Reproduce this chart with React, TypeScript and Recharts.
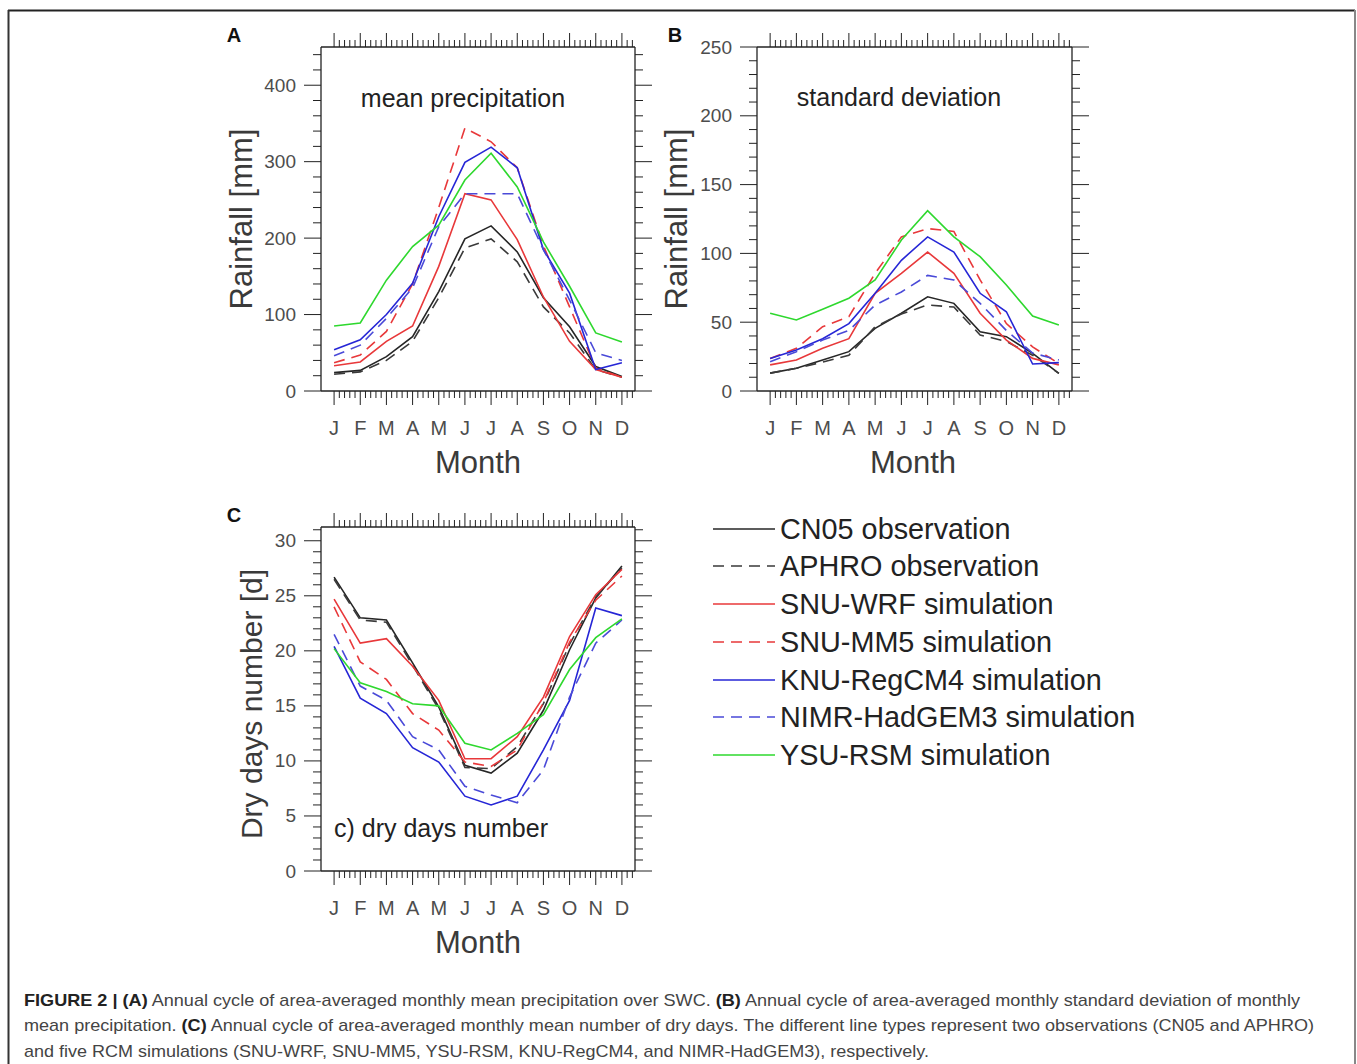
import React from "react";
import { LineChart, Line, XAxis, YAxis } from "recharts";

// ---------- data ----------
const monthLabels = ["J", "F", "M", "A", "M", "J", "J", "A", "S", "O", "N", "D"];
const monthIdx = [1, 2, 3, 4, 5, 6, 7, 8, 9, 10, 11, 12];

// Panel A: mean precipitation [mm]
const meanCN05 = [24, 27, 45, 71, 130, 199, 216, 182, 122, 84, 32, 19];
const meanAPHRO = [22, 25, 40, 65, 122, 187, 199, 169, 110, 76, 28, 18];
const meanWRF = [33, 38, 65, 85, 163, 258, 250, 198, 123, 65, 28, 18];
const meanMM5 = [37, 47, 78, 140, 240, 344, 326, 292, 190, 110, 30, 18];
const meanRegCM4 = [54, 67, 100, 141, 228, 299, 319, 292, 185, 128, 28, 37];
const meanHadGEM3 = [46, 60, 95, 135, 215, 258, 258, 258, 185, 119, 50, 40];
const meanRSM = [85, 89, 145, 189, 217, 276, 311, 267, 195, 137, 76, 64];

// Panel B: standard deviation [mm]
const sdCN05 = [13, 16.5, 22.5, 28.6, 45.5, 56.5, 68.5, 63.7, 43, 39.5, 27.4, 12.8];
const sdAPHRO = [13, 16.5, 21, 26, 46.7, 56, 62.5, 61, 40.7, 36, 26, 12.8];
const sdWRF = [19, 22.5, 31, 38, 71, 85.5, 101, 85.5, 56.5, 37, 23.7, 19];
const sdMM5 = [23.7, 31, 46.7, 54, 85.5, 112, 118, 116, 80.7, 49, 32, 20];
const sdRegCM4 = [23.7, 29.8, 38, 49, 71, 95, 112, 101, 71, 57.6, 19.6, 20.6];
const sdHadGEM3 = [21.3, 28.6, 37, 44, 62.5, 72, 84, 80.7, 63.7, 44, 27.6, 22.5];
const sdRSM = [56.5, 51.6, 59.4, 67.4, 80.7, 109.7, 131, 112, 97.6, 77, 54.5, 48];

// Panel C: dry days number [d]
const dryCN05 = [26.7, 23, 22.8, 18.9, 14.9, 9.6, 8.9, 10.7, 14.6, 20.1, 24.8, 27.7];
const dryAPHRO = [26.5, 22.8, 22.6, 18.7, 14.7, 9.4, 9.3, 11.3, 15.2, 20.6, 24.9, 27.5];
const dryWRF = [24.7, 20.7, 21.1, 18.6, 15.5, 10.2, 10.2, 12.2, 15.8, 21.3, 25.1, 27.4];
const dryMM5 = [24.0, 19.0, 17.4, 14.3, 12.8, 9.9, 9.5, 11.0, 15.3, 20.8, 24.6, 26.8];
const dryRegCM4 = [20.4, 15.7, 14.3, 11.2, 9.9, 6.8, 6.0, 6.8, 11.0, 15.5, 23.9, 23.2];
const dryHadGEM3 = [21.5, 16.8, 15.5, 12.2, 11.0, 7.7, 6.9, 6.2, 9.2, 15.8, 20.7, 22.8];
const dryRSM = [20.2, 17.1, 16.3, 15.2, 15.0, 11.6, 11.0, 12.5, 14.2, 18.3, 21.2, 22.9];

const seriesKeys = ["cn05", "aphro", "wrf", "mm5", "regcm4", "hadgem3", "rsm"];
const seriesNames = [
  "CN05 observation",
  "APHRO observation",
  "SNU-WRF simulation",
  "SNU-MM5 simulation",
  "KNU-RegCM4 simulation",
  "NIMR-HadGEM3 simulation",
  "YSU-RSM simulation",
];
const seriesColors = ["#262626", "#3a3a3a", "#e8383a", "#e8383a", "#2626d6", "#4a4ad8", "#2ed82e"];
const seriesDash = [undefined, "11 7", undefined, "11 7", undefined, "11 7", undefined];

const meanTicksY = [0, 100, 200, 300, 400];
const sdTicksY = [0, 50, 100, 150, 200, 250];
const dryTicksY = [0, 5, 10, 15, 20, 25, 30];

const FONT = "'Liberation Sans', Arial, Helvetica, sans-serif";

function buildData(cols: number[][]) {
  return monthIdx.map((m, i) => {
    const row: any = { m };
    seriesKeys.forEach((k, j) => (row[k] = cols[j][i]));
    return row;
  });
}

const meanData = buildData([meanCN05, meanAPHRO, meanWRF, meanMM5, meanRegCM4, meanHadGEM3, meanRSM]);
const sdData = buildData([sdCN05, sdAPHRO, sdWRF, sdMM5, sdRegCM4, sdHadGEM3, sdRSM]);
const dryData = buildData([dryCN05, dryAPHRO, dryWRF, dryMM5, dryRegCM4, dryHadGEM3, dryRSM]);

// x ticks: months (major) + 5 sub-divisions per month (minor)
const xTicks: number[] = [];
for (let i = 3; i <= 62; i++) xTicks.push(Math.round((0.5 + i * 0.2 - 0.1) * 1000) / 1000);
const xTicksAll = Array.from(new Set(xTicks.concat(monthIdx))).sort((a, b) => a - b).filter((v) => v > 0.5 && v < 12.5);

function yTicksFor(max: number, minorStep: number) {
  const out: number[] = [];
  for (let v = 0; v <= max + 1e-9; v += minorStep) out.push(Math.round(v * 1000) / 1000);
  return out;
}

const TICK_COLOR = "#4d4d4d";
const AXIS_COLOR = "#222";

const isInt = (v: number) => Math.abs(v - Math.round(v)) < 1e-6;

function XTick(props: any) {
  const { x, y, payload, side } = props;
  const v = payload.value;
  const major = isInt(v);
  const len = major ? 14 : 7;
  const sgn = side === "top" ? -1 : 1;
  return (
    <g>
      <line x1={x} x2={x} y1={y} y2={y + sgn * len} stroke={AXIS_COLOR} strokeWidth={1} />
      {side === "bottom" && major ? (
        <text x={x} y={y + 37} textAnchor="middle" dominantBaseline="central" fontSize={20} fill={TICK_COLOR} fontFamily={FONT}>
          {monthLabels[Math.round(v) - 1]}
        </text>
      ) : null}
    </g>
  );
}

function makeYTick(majorList: number[]) {
  return function YTick(props: any) {
    const { x, y, payload, side } = props;
    const v = payload.value;
    const major = majorList.some((m) => Math.abs(m - v) < 1e-6);
    const len = major ? 17 : 8;
    const sgn = side === "left" ? -1 : 1;
    return (
      <g>
        <line x1={x} x2={x + sgn * len} y1={y} y2={y} stroke={AXIS_COLOR} strokeWidth={1} />
        {side === "left" && major ? (
          <text x={x - len - 8} y={y} textAnchor="end" dominantBaseline="central" fontSize={19} fill={TICK_COLOR} fontFamily={FONT}>
            {v}
          </text>
        ) : null}
      </g>
    );
  };
}

type PanelProps = {
  data: any[];
  left: number;
  top: number;
  plotW: number;
  plotH: number;
  yMax: number;
  yMinor: number;
  yMajor: number[];
};

function Panel({ data, left, top, plotW, plotH, yMax, yMinor, yMajor }: PanelProps) {
  const LW = 80, RW = 40, TH = 30, BH = 60;
  const yTicks = yTicksFor(yMax, yMinor);
  const YT = makeYTick(yMajor);
  return (
    <div style={{ position: "absolute", left: left - LW, top: top - TH }}>
      <LineChart width={LW + plotW + RW} height={TH + plotH + BH} data={data} margin={{ top: 0, right: 0, bottom: 0, left: 0 }}>
        <XAxis
          xAxisId="b"
          dataKey="m"
          type="number"
          domain={[0.5, 12.5]}
          ticks={xTicksAll}
          interval={0}
          height={BH}
          tickSize={0}
          tickMargin={0}
          tickLine={false}
          axisLine={{ stroke: AXIS_COLOR, strokeWidth: 1.3 }}
          tick={(p: any) => <XTick {...p} side="bottom" />}
          allowDataOverflow
        />
        <XAxis
          xAxisId="t"
          orientation="top"
          type="number"
          dataKey="m"
          domain={[0.5, 12.5]}
          ticks={xTicksAll}
          interval={0}
          height={TH}
          tickSize={0}
          tickMargin={0}
          tickLine={false}
          axisLine={{ stroke: AXIS_COLOR, strokeWidth: 1.3 }}
          tick={(p: any) => <XTick {...p} side="top" />}
          allowDataOverflow
        />
        <YAxis
          yAxisId="l"
          type="number"
          domain={[0, yMax]}
          ticks={yTicks}
          interval={0}
          width={LW}
          tickSize={0}
          tickMargin={0}
          tickLine={false}
          axisLine={{ stroke: AXIS_COLOR, strokeWidth: 1.3 }}
          tick={(p: any) => <YT {...p} side="left" />}
          allowDataOverflow
        />
        <YAxis
          yAxisId="r"
          orientation="right"
          type="number"
          domain={[0, yMax]}
          ticks={yTicks}
          interval={0}
          width={RW}
          tickSize={0}
          tickMargin={0}
          tickLine={false}
          axisLine={{ stroke: AXIS_COLOR, strokeWidth: 1.3 }}
          tick={(p: any) => <YT {...p} side="right" />}
          allowDataOverflow
        />
        {seriesKeys.map((k, i) => (
          <Line
            key={k}
            xAxisId="b"
            yAxisId="l"
            dataKey={k}
            type="linear"
            stroke={seriesColors[i]}
            strokeWidth={1.6}
            strokeDasharray={seriesDash[i]}
            dot={false}
            activeDot={false}
            isAnimationActive={false}
          />
        ))}
      </LineChart>
    </div>
  );
}

const captionLines = [
  {
    y: 1006,
    len: 1276,
    parts: [
      { t: "FIGURE 2 | (A)", b: true },
      { t: " Annual cycle of area-averaged monthly mean precipitation over SWC. ", b: false },
      { t: "(B)", b: true },
      { t: " Annual cycle of area-averaged monthly standard deviation of monthly", b: false },
    ],
  },
  {
    y: 1031,
    len: 1290,
    parts: [
      { t: "mean precipitation. ", b: false },
      { t: "(C)", b: true },
      { t: " Annual cycle of area-averaged monthly mean number of dry days. The different line types represent two observations (CN05 and APHRO)", b: false },
    ],
  },
  {
    y: 1057,
    len: 905,
    parts: [{ t: "and five RCM simulations (SNU-WRF, SNU-MM5, YSU-RSM, KNU-RegCM4, and NIMR-HadGEM3), respectively.", b: false }],
  },
];

const legendRowsY = [529, 566, 604, 642, 680, 717, 755];

export default function App() {
  return (
    <div style={{ position: "absolute", left: 0, top: 0, width: 1357, height: 1064, background: "#fff", fontFamily: FONT, overflow: "hidden" }}>
      <Panel data={meanData} left={321} top={47} plotW={314} plotH={344} yMax={450} yMinor={20} yMajor={meanTicksY} />
      <Panel data={sdData} left={757} top={47} plotW={315} plotH={344} yMax={250} yMinor={10} yMajor={sdTicksY} />
      <Panel data={dryData} left={321} top={527} plotW={314} plotH={344} yMax={31.25} yMinor={1} yMajor={dryTicksY} />
      <svg width={1357} height={1064} style={{ position: "absolute", left: 0, top: 0, pointerEvents: "none" }} fontFamily={FONT}>
        {/* frame */}
        <line x1={8} y1={10.5} x2={1355} y2={10.5} stroke="#222" strokeWidth={2} />
        <line x1={8.5} y1={10} x2={8.5} y2={1064} stroke="#333" strokeWidth={2} />
        <line x1={1355} y1={10} x2={1355} y2={1064} stroke="#888" strokeWidth={2} />
        {/* panel letters */}
        <text x={234} y={35} textAnchor="middle" dominantBaseline="central" fontSize={20} fontWeight="bold" fill="#111">A</text>
        <text x={675} y={35} textAnchor="middle" dominantBaseline="central" fontSize={20} fontWeight="bold" fill="#111">B</text>
        <text x={234} y={515} textAnchor="middle" dominantBaseline="central" fontSize={20} fontWeight="bold" fill="#111">C</text>
        {/* axis titles */}
        <text transform="translate(241,219) rotate(-90)" textAnchor="middle" dominantBaseline="central" fontSize={31} fill="#3a3a3a">Rainfall [mm]</text>
        <text transform="translate(676,219) rotate(-90)" textAnchor="middle" dominantBaseline="central" fontSize={31} fill="#3a3a3a">Rainfall [mm]</text>
        <text transform="translate(251,704) rotate(-90)" textAnchor="middle" dominantBaseline="central" fontSize={30} fill="#3a3a3a">Dry days number [d]</text>
        <text x={478} y={462} textAnchor="middle" dominantBaseline="central" fontSize={31} fill="#3a3a3a">Month</text>
        <text x={913} y={462} textAnchor="middle" dominantBaseline="central" fontSize={31} fill="#3a3a3a">Month</text>
        <text x={478} y={942} textAnchor="middle" dominantBaseline="central" fontSize={31} fill="#3a3a3a">Month</text>
        {/* inner titles */}
        <text x={463} y={98} textAnchor="middle" dominantBaseline="central" fontSize={25} fill="#222">mean precipitation</text>
        <text x={899} y={97} textAnchor="middle" dominantBaseline="central" fontSize={25} fill="#222">standard deviation</text>
        <text x={334} y={828} textAnchor="start" dominantBaseline="central" fontSize={25} fill="#222">c) dry days number</text>
        {/* legend */}
        {seriesNames.map((n, i) => (
          <g key={n}>
            <line x1={713} x2={775} y1={legendRowsY[i]} y2={legendRowsY[i]} stroke={seriesColors[i]} strokeWidth={1.6} strokeDasharray={seriesDash[i]} />
            <text x={780} y={legendRowsY[i]} dominantBaseline="central" fontSize={28.8} fill="#222">{n}</text>
          </g>
        ))}
        {/* caption */}
        {captionLines.map((ln, i) => (
          <text key={i} x={24} y={ln.y} fontSize={17} fill="#444" textLength={ln.len} lengthAdjust="spacingAndGlyphs">
            {ln.parts.map((p, j) => (
              <tspan key={j} fontWeight={p.b ? "bold" : "normal"} fill={p.b ? "#222" : "#444"}>{p.t}</tspan>
            ))}
          </text>
        ))}
      </svg>
    </div>
  );
}
